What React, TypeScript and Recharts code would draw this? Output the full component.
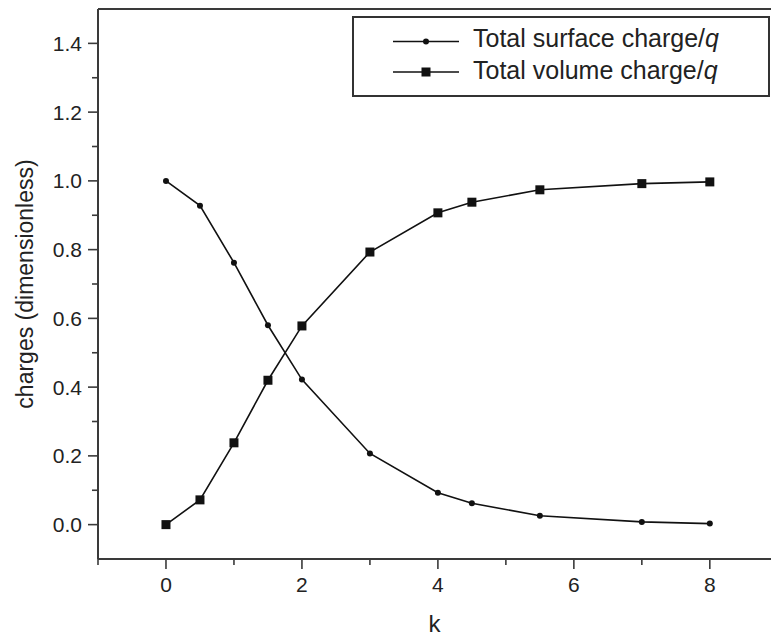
import React from 'react';
import { LineChart, Line, XAxis, YAxis, ReferenceLine, Legend } from 'recharts';

// Dimensionless charge split versus k
const kValues = [0, 0.5, 1, 1.5, 2, 3, 4, 4.5, 5.5, 7, 8];
const surfaceCharge = [1.0, 0.928, 0.762, 0.58, 0.422, 0.207, 0.093, 0.062, 0.026, 0.008, 0.003];
const volumeCharge = [0.0, 0.072, 0.238, 0.42, 0.578, 0.793, 0.907, 0.938, 0.974, 0.992, 0.997];

const xTicks = [-1, 0, 1, 2, 3, 4, 5, 6, 7, 8];
const yTicks = [0, 0.1, 0.2, 0.3, 0.4, 0.5, 0.6, 0.7, 0.8, 0.9, 1.0, 1.1, 1.2, 1.3, 1.4];

const surfaceName = 'Total surface charge/q';
const volumeName = 'Total volume charge/q';

const data = kValues.map((k, i) => ({
  k,
  surface: surfaceCharge[i],
  volume: volumeCharge[i],
}));

const FONT = '"Liberation Sans", Arial, Helvetica, sans-serif';
const INK = '#222';
const AXIS = '#3a3a3a';

const XTick = (props: any) => {
  const { x, y, payload } = props;
  const v = payload.value as number;
  const major = v % 2 === 0;
  return (
    <g>
      <line x1={x} x2={x} y1={y} y2={y + (major ? 10 : 6)} stroke={AXIS} strokeWidth={1.6} />
      {major && (
        <text x={x} y={y + 33} textAnchor="middle" fontSize={21} fontFamily={FONT} fill={INK}>
          {v}
        </text>
      )}
    </g>
  );
};

const YTick = (props: any) => {
  const { x, y, payload } = props;
  const v = payload.value as number;
  const major = Math.round(v * 10) % 2 === 0;
  return (
    <g>
      <line x1={x - (major ? 10 : 6)} x2={x} y1={y} y2={y} stroke={AXIS} strokeWidth={1.6} />
      {major && (
        <text x={x - 16} y={y} dy="0.36em" textAnchor="end" fontSize={21} fontFamily={FONT} fill={INK}>
          {v.toFixed(1)}
        </text>
      )}
    </g>
  );
};

const RoundDot = (props: any) => {
  const { cx, cy, index } = props;
  return <circle key={`s-${index}`} cx={cx} cy={cy} r={3} fill="#111" />;
};

const SquareDot = (props: any) => {
  const { cx, cy, index } = props;
  return <rect key={`v-${index}`} x={cx - 4.5} y={cy - 4.5} width={9} height={9} fill="#111" />;
};

const LegendLabel = ({ text, y }: { text: string; y: number }) => {
  const base = text.slice(0, -1);
  const last = text.slice(-1);
  return (
    <text x={121} y={y} fontSize={25} fontFamily={FONT} fill={INK}>
      {base}
      <tspan fontStyle="italic">{last}</tspan>
    </text>
  );
};

const LegendBox = () => (
  <svg width={418} height={81} style={{ display: 'block' }}>
    <rect x={1} y={1} width={416} height={79} fill="#fff" stroke="#333" strokeWidth={2} />
    <line x1={41} x2={107} y1={25.5} y2={25.5} stroke="#111" strokeWidth={1.5} />
    <circle cx={74} cy={25.5} r={3} fill="#111" />
    <LegendLabel text={surfaceName} y={31} />
    <line x1={41} x2={107} y1={56} y2={56} stroke="#111" strokeWidth={1.5} />
    <rect x={69.5} y={51.5} width={9} height={9} fill="#111" />
    <LegendLabel text={volumeName} y={63} />
  </svg>
);

export default function App() {
  return (
    <div style={{ position: 'absolute', left: 0, top: 0, width: 771, height: 637, background: '#fff' }}>
      <LineChart
        width={771}
        height={637}
        data={data}
        margin={{ top: 9, right: 0, left: 0, bottom: 0 }}
      >
        <XAxis
          dataKey="k"
          type="number"
          domain={[-1, 8.9]}
          ticks={xTicks}
          interval={0}
          height={78}
          tickSize={0}
          tickMargin={0}
          tickLine={false}
          tick={<XTick />}
          axisLine={{ stroke: AXIS, strokeWidth: 2 }}
          allowDataOverflow
          label={{ value: 'k', position: 'insideBottom', offset: 5, fontSize: 24, fontFamily: FONT, fill: INK }}
        />
        <YAxis
          type="number"
          domain={[-0.1, 1.5]}
          ticks={yTicks}
          interval={0}
          width={98}
          tickSize={0}
          tickMargin={0}
          tickLine={false}
          tick={<YTick />}
          axisLine={{ stroke: AXIS, strokeWidth: 2 }}
          allowDataOverflow
          label={{
            value: 'charges (dimensionless)',
            angle: -90,
            position: 'insideLeft',
            offset: 25,
            style: { textAnchor: 'middle' },
            fontSize: 23,
            fontFamily: FONT,
            fill: INK,
          }}
        />
        <ReferenceLine y={1.5} stroke={AXIS} strokeWidth={2} />
        <Legend
          layout="vertical"
          align="center"
          verticalAlign="middle"
          content={<LegendBox />}
          wrapperStyle={{ position: 'absolute', left: 352, top: 16, width: 418, height: 81 }}
        />
        <Line
          type="linear"
          dataKey="surface"
          name={surfaceName}
          stroke="#111"
          strokeWidth={1.6}
          dot={<RoundDot />}
          activeDot={false}
          isAnimationActive={false}
        />
        <Line
          type="linear"
          dataKey="volume"
          name={volumeName}
          stroke="#111"
          strokeWidth={1.6}
          dot={<SquareDot />}
          activeDot={false}
          isAnimationActive={false}
        />
      </LineChart>
    </div>
  );
}
